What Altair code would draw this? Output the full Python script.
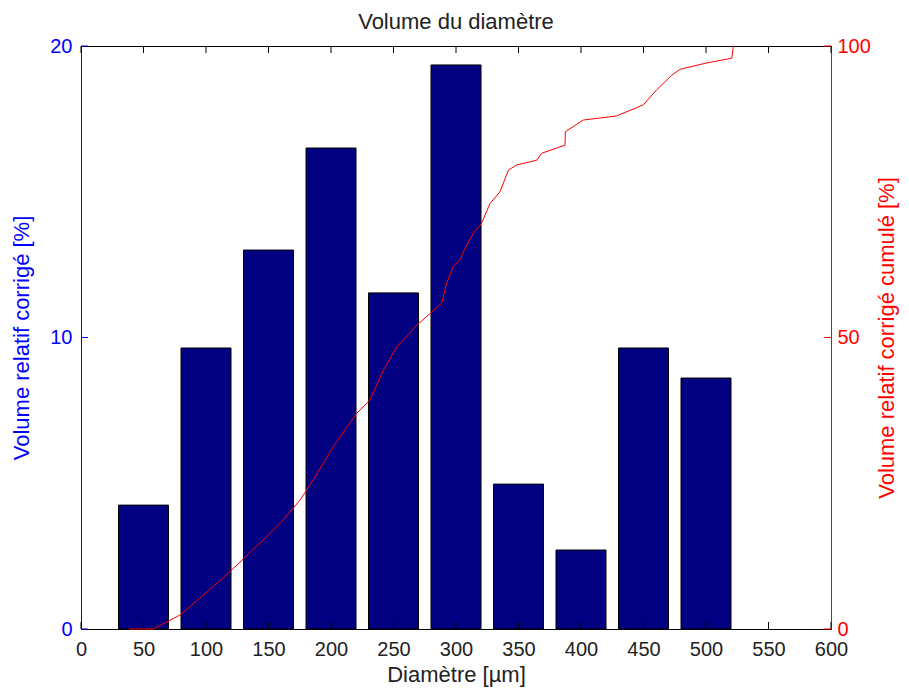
import altair as alt
import pandas as pd

# Bars: diameter class centres and relative volume (%)
diametre = [50, 100, 150, 200, 250, 300, 350, 400, 450, 500]
volume = [4.25, 9.64, 13.0, 16.5, 11.53, 19.35, 4.97, 2.71, 9.64, 8.61]
bar_half_width = 20  # MATLAB bar width 0.8 * 50

# Cumulative curve
cum_x = [38.6, 57.9, 79.2, 105.9, 121.9, 145.9, 159.2, 175.2, 185.9, 201.9,
         220.6, 231.2, 241.9, 252.6, 262.0, 268.5, 279.2, 288.5, 292.5, 297.9,
         303.2, 307.2, 313.9, 320.5, 327.2, 335.2, 341.9, 348.5, 364.5, 368.5,
         387.2, 387.5, 401.8, 428.5, 449.8, 460.6, 472.6, 479.2, 500.6, 520.6,
         521.9]
cum_y = [0.0, 0.0, 2.4, 7.3, 10.4, 15.3, 18.1, 22.1, 25.6, 31.3,
         37.0, 39.3, 44.4, 48.4, 50.5, 52.1, 54.1, 55.9, 59.3, 62.2,
         63.3, 65.3, 67.9, 69.6, 73.0, 75.0, 78.7, 79.6, 80.4, 81.6,
         83.0, 85.3, 87.3, 88.0, 89.9, 92.5, 95.0, 96.0, 97.1, 97.9,
         100.0]

x_ticks = [0, 50, 100, 150, 200, 250, 300, 350, 400, 450, 500, 550, 600]
left_ticks = [0, 10, 20]
right_ticks = [0, 50, 100]

FONT = "Liberation Sans"
BLUE = "#0000FF"
RED = "#FF0000"
W, H = 750, 583
TICK = 7
LBL = 20
TTL = 22

bars_df = pd.DataFrame({"d": diametre, "v": volume})
cum_df = pd.DataFrame({"x": cum_x, "y": cum_y})
xt_df = pd.DataFrame({"t": x_ticks})
lt_df = pd.DataFrame({"t": left_ticks})
rt_df = pd.DataFrame({"t": right_ticks})

xscale = alt.Scale(domain=[0, 600], nice=False, zero=False)
lscale = alt.Scale(domain=[0, 20], nice=False)
rscale = alt.Scale(domain=[0, 100], nice=False)

xaxis = alt.Axis(
    values=x_ticks, title="Diamètre [µm]", ticks=False, grid=False,
    domainColor="black", labelColor="#222222", titleColor="#222222",
    labelPadding=10, titlePadding=5, labelFont=FONT, titleFont=FONT,
    labelFontSize=LBL, titleFontSize=TTL, titleFontWeight="normal",
    labelFlush=False, labelOverlap=False)

bars = alt.Chart(bars_df).transform_calculate(
    lo=f"datum.d - {bar_half_width}", hi=f"datum.d + {bar_half_width}"
).mark_rect(color="#000080", stroke="black", strokeWidth=1).encode(
    x=alt.X("lo:Q", scale=xscale, axis=xaxis),
    x2="hi:Q",
    y=alt.Y("v:Q", scale=lscale, axis=alt.Axis(
        values=left_ticks, title="Volume relatif corrigé [%]", orient="left",
        ticks=False, grid=False, domainColor=BLUE, labelColor=BLUE,
        titleColor=BLUE, labelPadding=9, titlePadding=16, labelFlush=False,
        labelFont=FONT, titleFont=FONT, labelFontSize=LBL, titleFontSize=TTL,
        titleFontWeight="normal")),
    y2=alt.datum(0),
)

line = alt.Chart(cum_df).mark_line(color=RED, strokeWidth=1).encode(
    x=alt.X("x:Q", scale=xscale, axis=xaxis),
    y=alt.Y("y:Q", scale=rscale, axis=alt.Axis(
        values=right_ticks, title="Volume relatif corrigé cumulé [%]",
        orient="right", ticks=False, grid=False, domainColor=RED,
        labelColor=RED, titleColor=RED, labelPadding=6, titlePadding=28,
        titleAngle=270, labelFlush=False, labelFont=FONT, titleFont=FONT,
        labelFontSize=LBL, titleFontSize=TTL, titleFontWeight="normal")),
)

xt_bottom = alt.Chart(xt_df).mark_rule(color="black", strokeWidth=1).encode(
    x=alt.X("t:Q", scale=xscale, axis=xaxis),
    y=alt.value(H), y2=alt.value(H - TICK),
)
xt_top = alt.Chart(xt_df).mark_rule(color="black", strokeWidth=1).encode(
    x=alt.X("t:Q", scale=xscale, axis=xaxis),
    y=alt.value(0), y2=alt.value(TICK),
)
lt = alt.Chart(lt_df).mark_rule(color=BLUE, strokeWidth=1).encode(
    y=alt.Y("t:Q", scale=lscale, axis=None),
    x=alt.value(0), x2=alt.value(TICK),
)
rt = alt.Chart(rt_df).mark_rule(color=RED, strokeWidth=1).encode(
    y=alt.Y("t:Q", scale=rscale, axis=None),
    x=alt.value(W), x2=alt.value(W - TICK),
)

chart = alt.layer(bars, xt_bottom, xt_top, lt, rt, line).resolve_scale(
    y="independent"
).properties(
    width=W, height=H,
    background="white",
    title=alt.TitleParams("Volume du diamètre", font=FONT, fontSize=TTL,
                          fontWeight="normal", color="#222222", offset=2),
    autosize=alt.AutoSizeParams(type="none"),
    padding={"left": 73, "top": 38, "right": 70, "bottom": 58},
).configure_view(stroke="black", strokeWidth=1)

chart.save("out.html", embed_options={"renderer": "svg", "actions": False})
